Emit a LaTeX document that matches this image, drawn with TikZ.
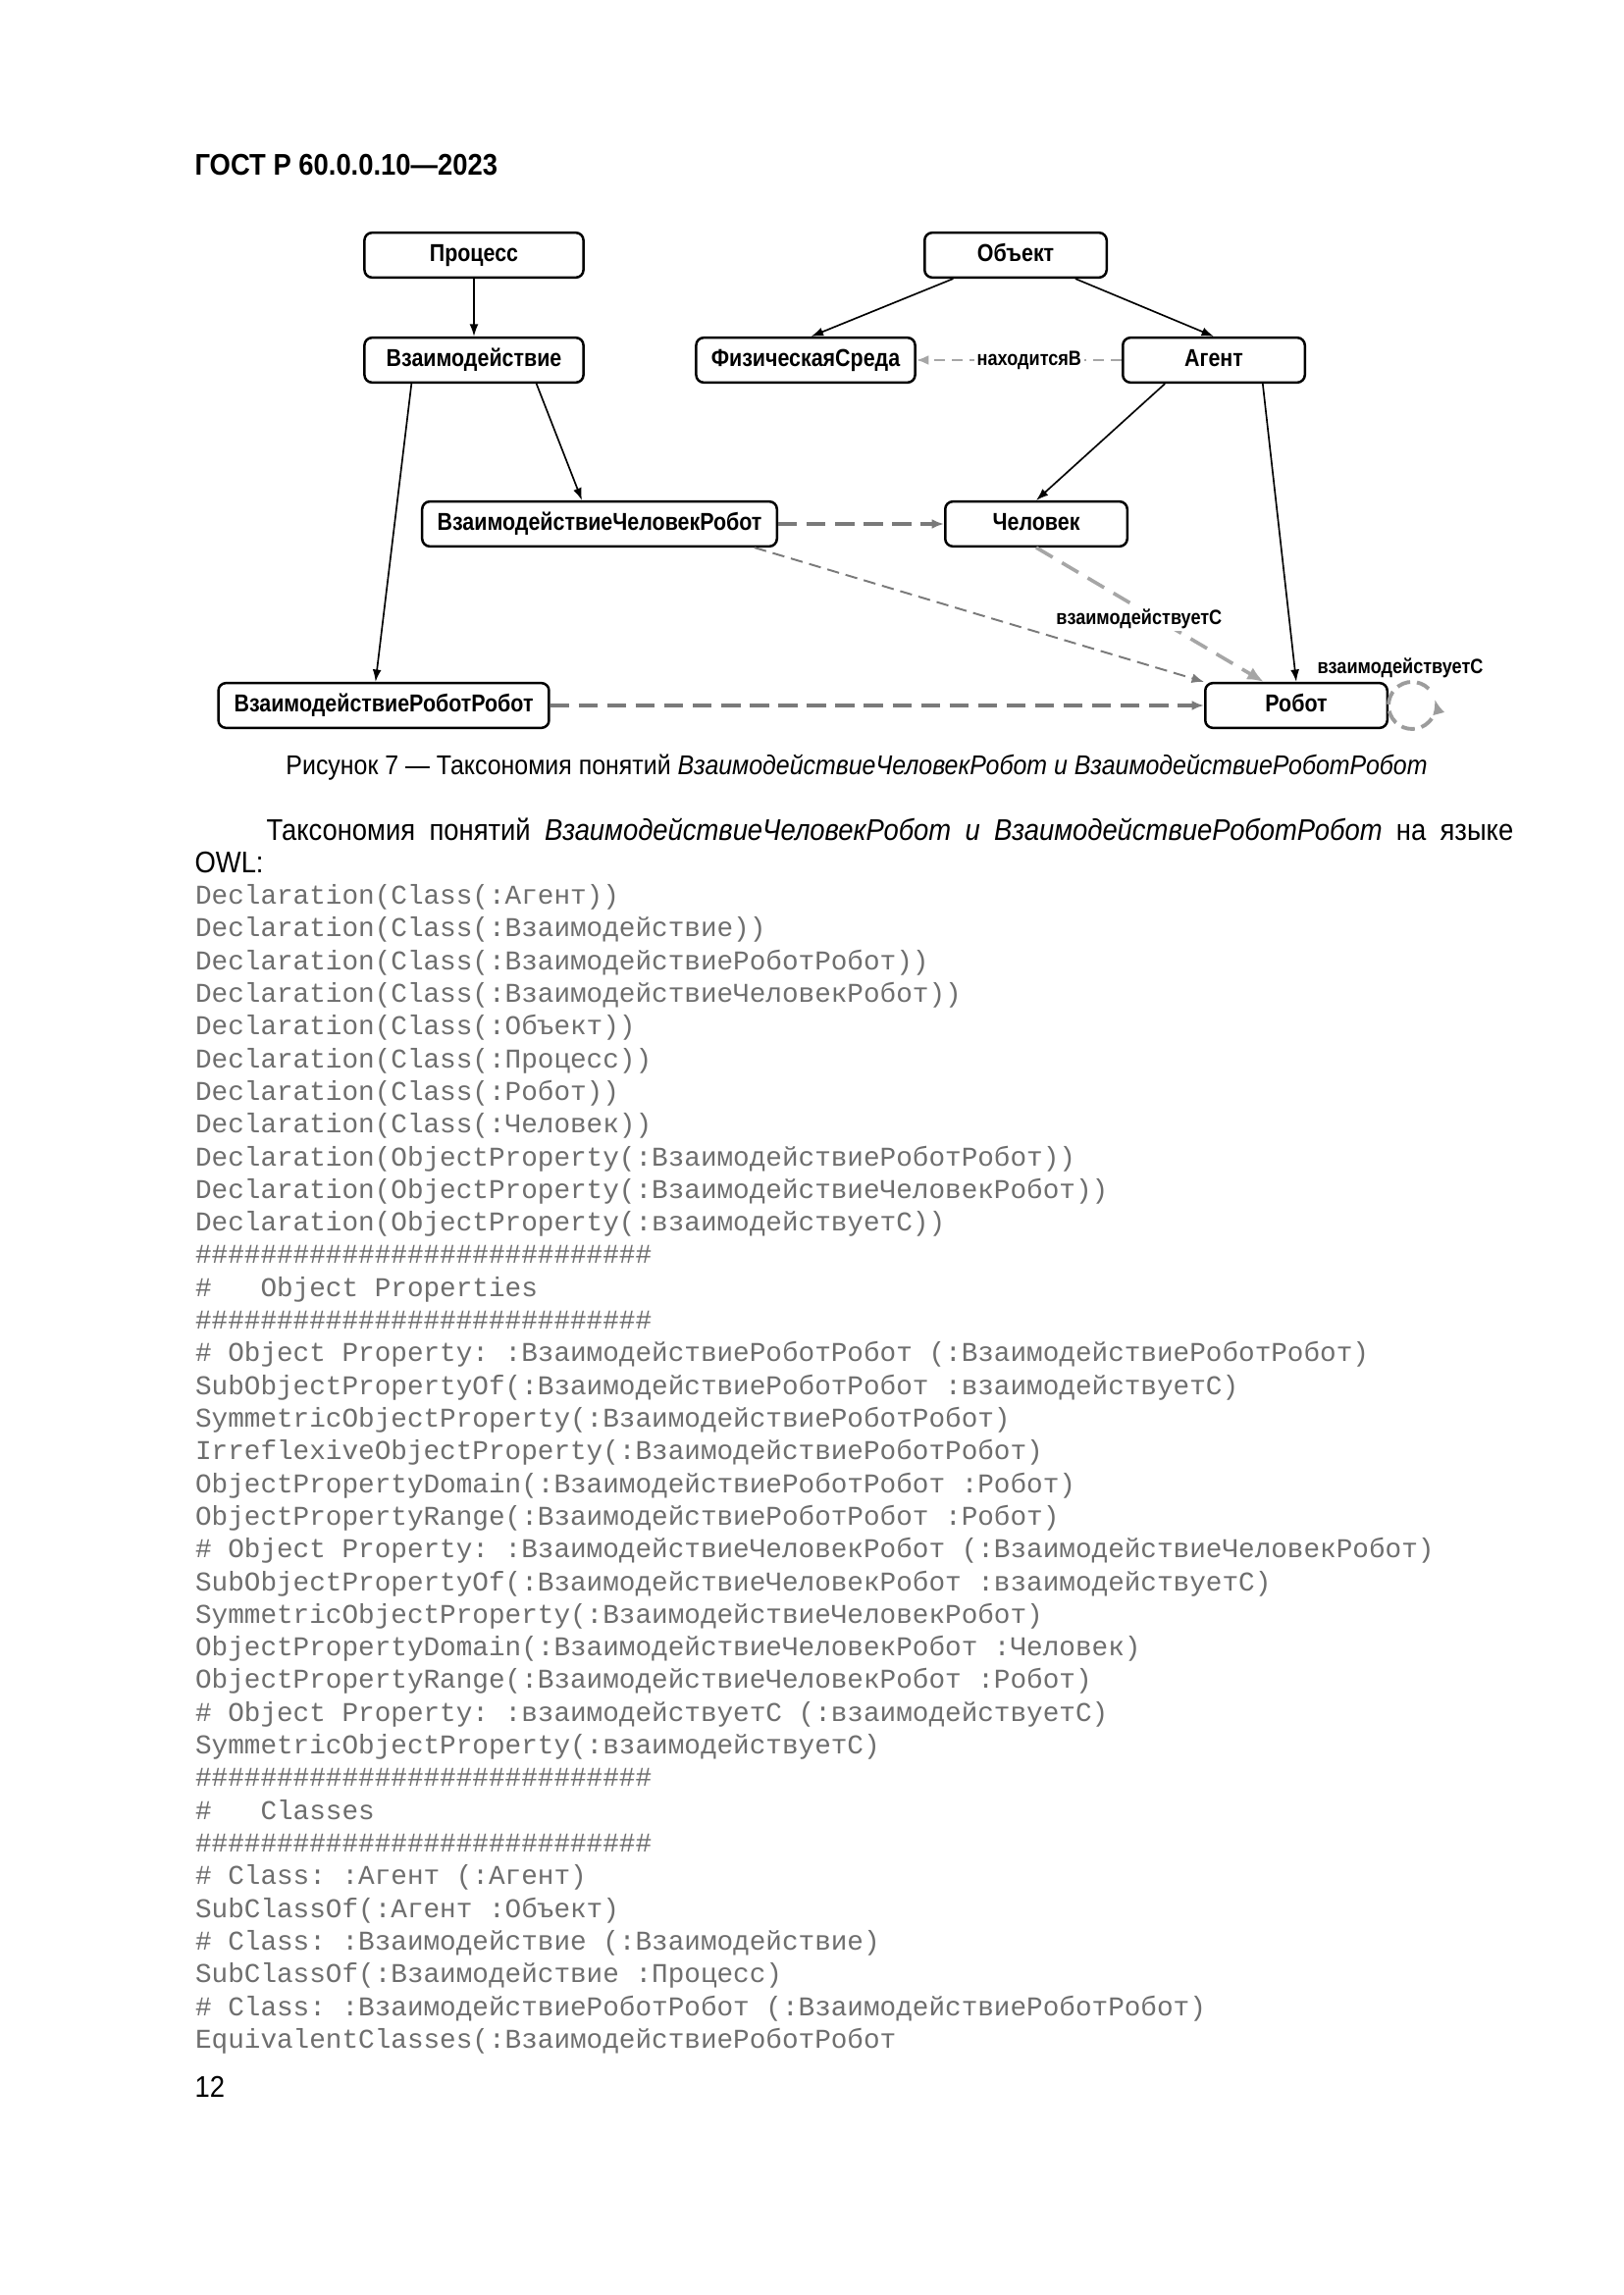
\documentclass[tikz,border=0pt]{standalone}
\usepackage{fontspec}
\setmainfont{Liberation Sans}
\setmonofont{Liberation Mono}
\newfontfamily\diagfont[FakeStretch=0.86]{Liberation Sans}
\newfontfamily\narrowfont[FakeStretch=0.9]{Liberation Sans}
\usetikzlibrary{arrows.meta,calc}
\definecolor{relgray}{HTML}{7A7A7A}
\definecolor{softgray}{HTML}{A6A6A6}
\definecolor{loopgray}{HTML}{9C9C9C}
\definecolor{codegray}{HTML}{6E6E6E}
\tikzstyle{cls} = [rectangle,draw=black,line width=0.9pt,fill=white,rounded corners=2.8pt,minimum height=16.5pt,minimum width=67pt,inner xsep=4pt,text height=6.6pt,text depth=1.8pt,font=\diagfont\bfseries\fontsize{9}{10}\selectfont]
\tikzstyle{isa} = [-{Latex[length=4.5pt,width=3.2pt]},line width=0.6pt,black]
\tikzstyle{rellabel} = [fill=white,inner sep=1pt,text=black,font=\diagfont\bfseries\fontsize{7.6}{8}\selectfont]

\begin{document}
\begin{tikzpicture}[x=0.012696cm,y=-0.012696cm,
    hrirel/.style = {-{Latex[length=4.5pt,width=3.6pt]},relgray,line width=1.1pt,dash pattern=on 7pt off 3.5pt},
    thinrel/.style = {-{Latex[length=4.5pt,width=3.6pt]},relgray,line width=0.7pt,dash pattern=on 4.5pt off 2.5pt},
    widerel/.style = {-{Latex[length=6pt,width=5pt]},softgray,line width=1.3pt,dash pattern=on 7pt off 4pt},
    locrel/.style = {-{Latex[length=4.5pt,width=3.6pt]},softgray,line width=1pt,dash pattern=on 4pt off 2.5pt},
    looprel/.style = {-{Latex[length=5.5pt,width=4.5pt]},loopgray,line width=1.4pt,dash pattern=on 5pt off 2.5pt},
    code/.style = {font=\fontsize{10}{12.03}\selectfont\ttfamily,text=codegray,align=left,inner sep=0pt}
                        ]
    \fill [white] (0,0) rectangle (1654,2339);
    \useasboundingbox (0,0) rectangle (1654,2339);

    % page head
    \node [anchor=base west,inner sep=0pt,font=\narrowfont\bfseries\fontsize{11}{12}\selectfont] (gost) at (198,179) {ГОСТ Р 60.0.0.10—2023};

    % We start by placing the classes
    \node [cls, minimum width=80.6pt] (proc) at (483,260) {Процесс};
    \node [cls] (obj) at (1035,260) {Объект};
    \node [cls, minimum width=80.6pt] (inter) at (483,367) {Взаимодействие};
    \node [cls, minimum width=80.6pt] (env) at (821,367) {ФизическаяСреда};
    \node [cls] (agent) at (1237,367) {Агент};
    \node [cls, minimum width=130.6pt] (hri) at (611,534) {ВзаимодействиеЧеловекРобот};
    \node [cls] (human) at (1056,534) {Человек};
    \node [cls, minimum width=121.7pt] (rri) at (391,719) {ВзаимодействиеРоботРобот};
    \node [cls] (robot) at (1321,719) {Робот};

    % subclass edges
    \draw [isa] (proc) -- (inter);
    \draw [isa] ([xshift=-23pt]inter.south) -- ([xshift=-3pt]rri.north);
    \draw [isa] ([xshift=23pt]inter.south) -- ([xshift=-6.5pt]hri.north);
    \draw [isa] ([xshift=-23pt]obj.south) -- ([xshift=2pt]env.north);
    \draw [isa] ([xshift=22pt]obj.south) -- (agent.north);
    \draw [isa] ([xshift=-18pt]agent.south) -- (human.north);
    \draw [isa] ([xshift=18pt]agent.south) -- (robot.north);

    % object properties
    \draw [locrel] (agent) -- node[rellabel, pos=0.45] (loclbl) {находитсяВ} (env);
    \draw [hrirel] (hri) -- (human);
    \draw [thinrel] ([xshift=57pt]hri.south) -- (robot.north west);
    \draw [widerel] (human.south) -- node[rellabel, xshift=-4pt, yshift=-1.5pt] (withlbl) {взаимодействуетС} ([xshift=-12pt]robot.north);
    \draw [hrirel] (rri) -- (robot);
    \draw [looprel] ($(robot.east)+(41,-17)$) arc[start angle=315,end angle=-15,radius=24];
    \node [rellabel, fill=none] (selflbl) at ($(robot.east)+(12,-38)$) {взаимодействуетС};

    % caption and text
    \node [anchor=base,inner sep=0pt,font=\narrowfont\fontsize{10}{12}\selectfont] (caption) at (873,790) {Рисунок 7 — Таксономия понятий \textit{ВзаимодействиеЧеловекРобот и ВзаимодействиеРоботРобот}};
    \node [anchor=base west,inner sep=0pt,font=\narrowfont\fontsize{11}{12}\selectfont] (para) at (271,856) {\makebox[459pt][s]{Таксономия понятий \textit{ВзаимодействиеЧеловекРобот и ВзаимодействиеРоботРобот} на языке}};
    \node [anchor=base west,inner sep=0pt,font=\narrowfont\fontsize{11}{12}\selectfont] (owllbl) at (198,889) {OWL:};

    \node [code, anchor=north west] (owl) at (198.5,901) {Declaration(Class(:Агент))\\
Declaration(Class(:Взаимодействие))\\
Declaration(Class(:ВзаимодействиеРоботРобот))\\
Declaration(Class(:ВзаимодействиеЧеловекРобот))\\
Declaration(Class(:Объект))\\
Declaration(Class(:Процесс))\\
Declaration(Class(:Робот))\\
Declaration(Class(:Человек))\\
Declaration(ObjectProperty(:ВзаимодействиеРоботРобот))\\
Declaration(ObjectProperty(:ВзаимодействиеЧеловекРобот))\\
Declaration(ObjectProperty(:взаимодействуетС))\\
\#\#\#\#\#\#\#\#\#\#\#\#\#\#\#\#\#\#\#\#\#\#\#\#\#\#\#\#\\
\#\ \ \ Object Properties\\
\#\#\#\#\#\#\#\#\#\#\#\#\#\#\#\#\#\#\#\#\#\#\#\#\#\#\#\#\\
\# Object Property: :ВзаимодействиеРоботРобот (:ВзаимодействиеРоботРобот)\\
SubObjectPropertyOf(:ВзаимодействиеРоботРобот :взаимодействуетС)\\
SymmetricObjectProperty(:ВзаимодействиеРоботРобот)\\
IrreflexiveObjectProperty(:ВзаимодействиеРоботРобот)\\
ObjectPropertyDomain(:ВзаимодействиеРоботРобот :Робот)\\
ObjectPropertyRange(:ВзаимодействиеРоботРобот :Робот)\\
\# Object Property: :ВзаимодействиеЧеловекРобот (:ВзаимодействиеЧеловекРобот)\\
SubObjectPropertyOf(:ВзаимодействиеЧеловекРобот :взаимодействуетС)\\
SymmetricObjectProperty(:ВзаимодействиеЧеловекРобот)\\
ObjectPropertyDomain(:ВзаимодействиеЧеловекРобот :Человек)\\
ObjectPropertyRange(:ВзаимодействиеЧеловекРобот :Робот)\\
\# Object Property: :взаимодействуетС (:взаимодействуетС)\\
SymmetricObjectProperty(:взаимодействуетС)\\
\#\#\#\#\#\#\#\#\#\#\#\#\#\#\#\#\#\#\#\#\#\#\#\#\#\#\#\#\\
\#\ \ \ Classes\\
\#\#\#\#\#\#\#\#\#\#\#\#\#\#\#\#\#\#\#\#\#\#\#\#\#\#\#\#\\
\# Class: :Агент (:Агент)\\
SubClassOf(:Агент :Объект)\\
\# Class: :Взаимодействие (:Взаимодействие)\\
SubClassOf(:Взаимодействие :Процесс)\\
\# Class: :ВзаимодействиеРоботРобот (:ВзаимодействиеРоботРобот)\\
EquivalentClasses(:ВзаимодействиеРоботРобот};

    \node [anchor=base west,inner sep=0pt,font=\narrowfont\fontsize{11}{12}\selectfont] (pagenum) at (198,2137) {12};
\end{tikzpicture}
\end{document}
